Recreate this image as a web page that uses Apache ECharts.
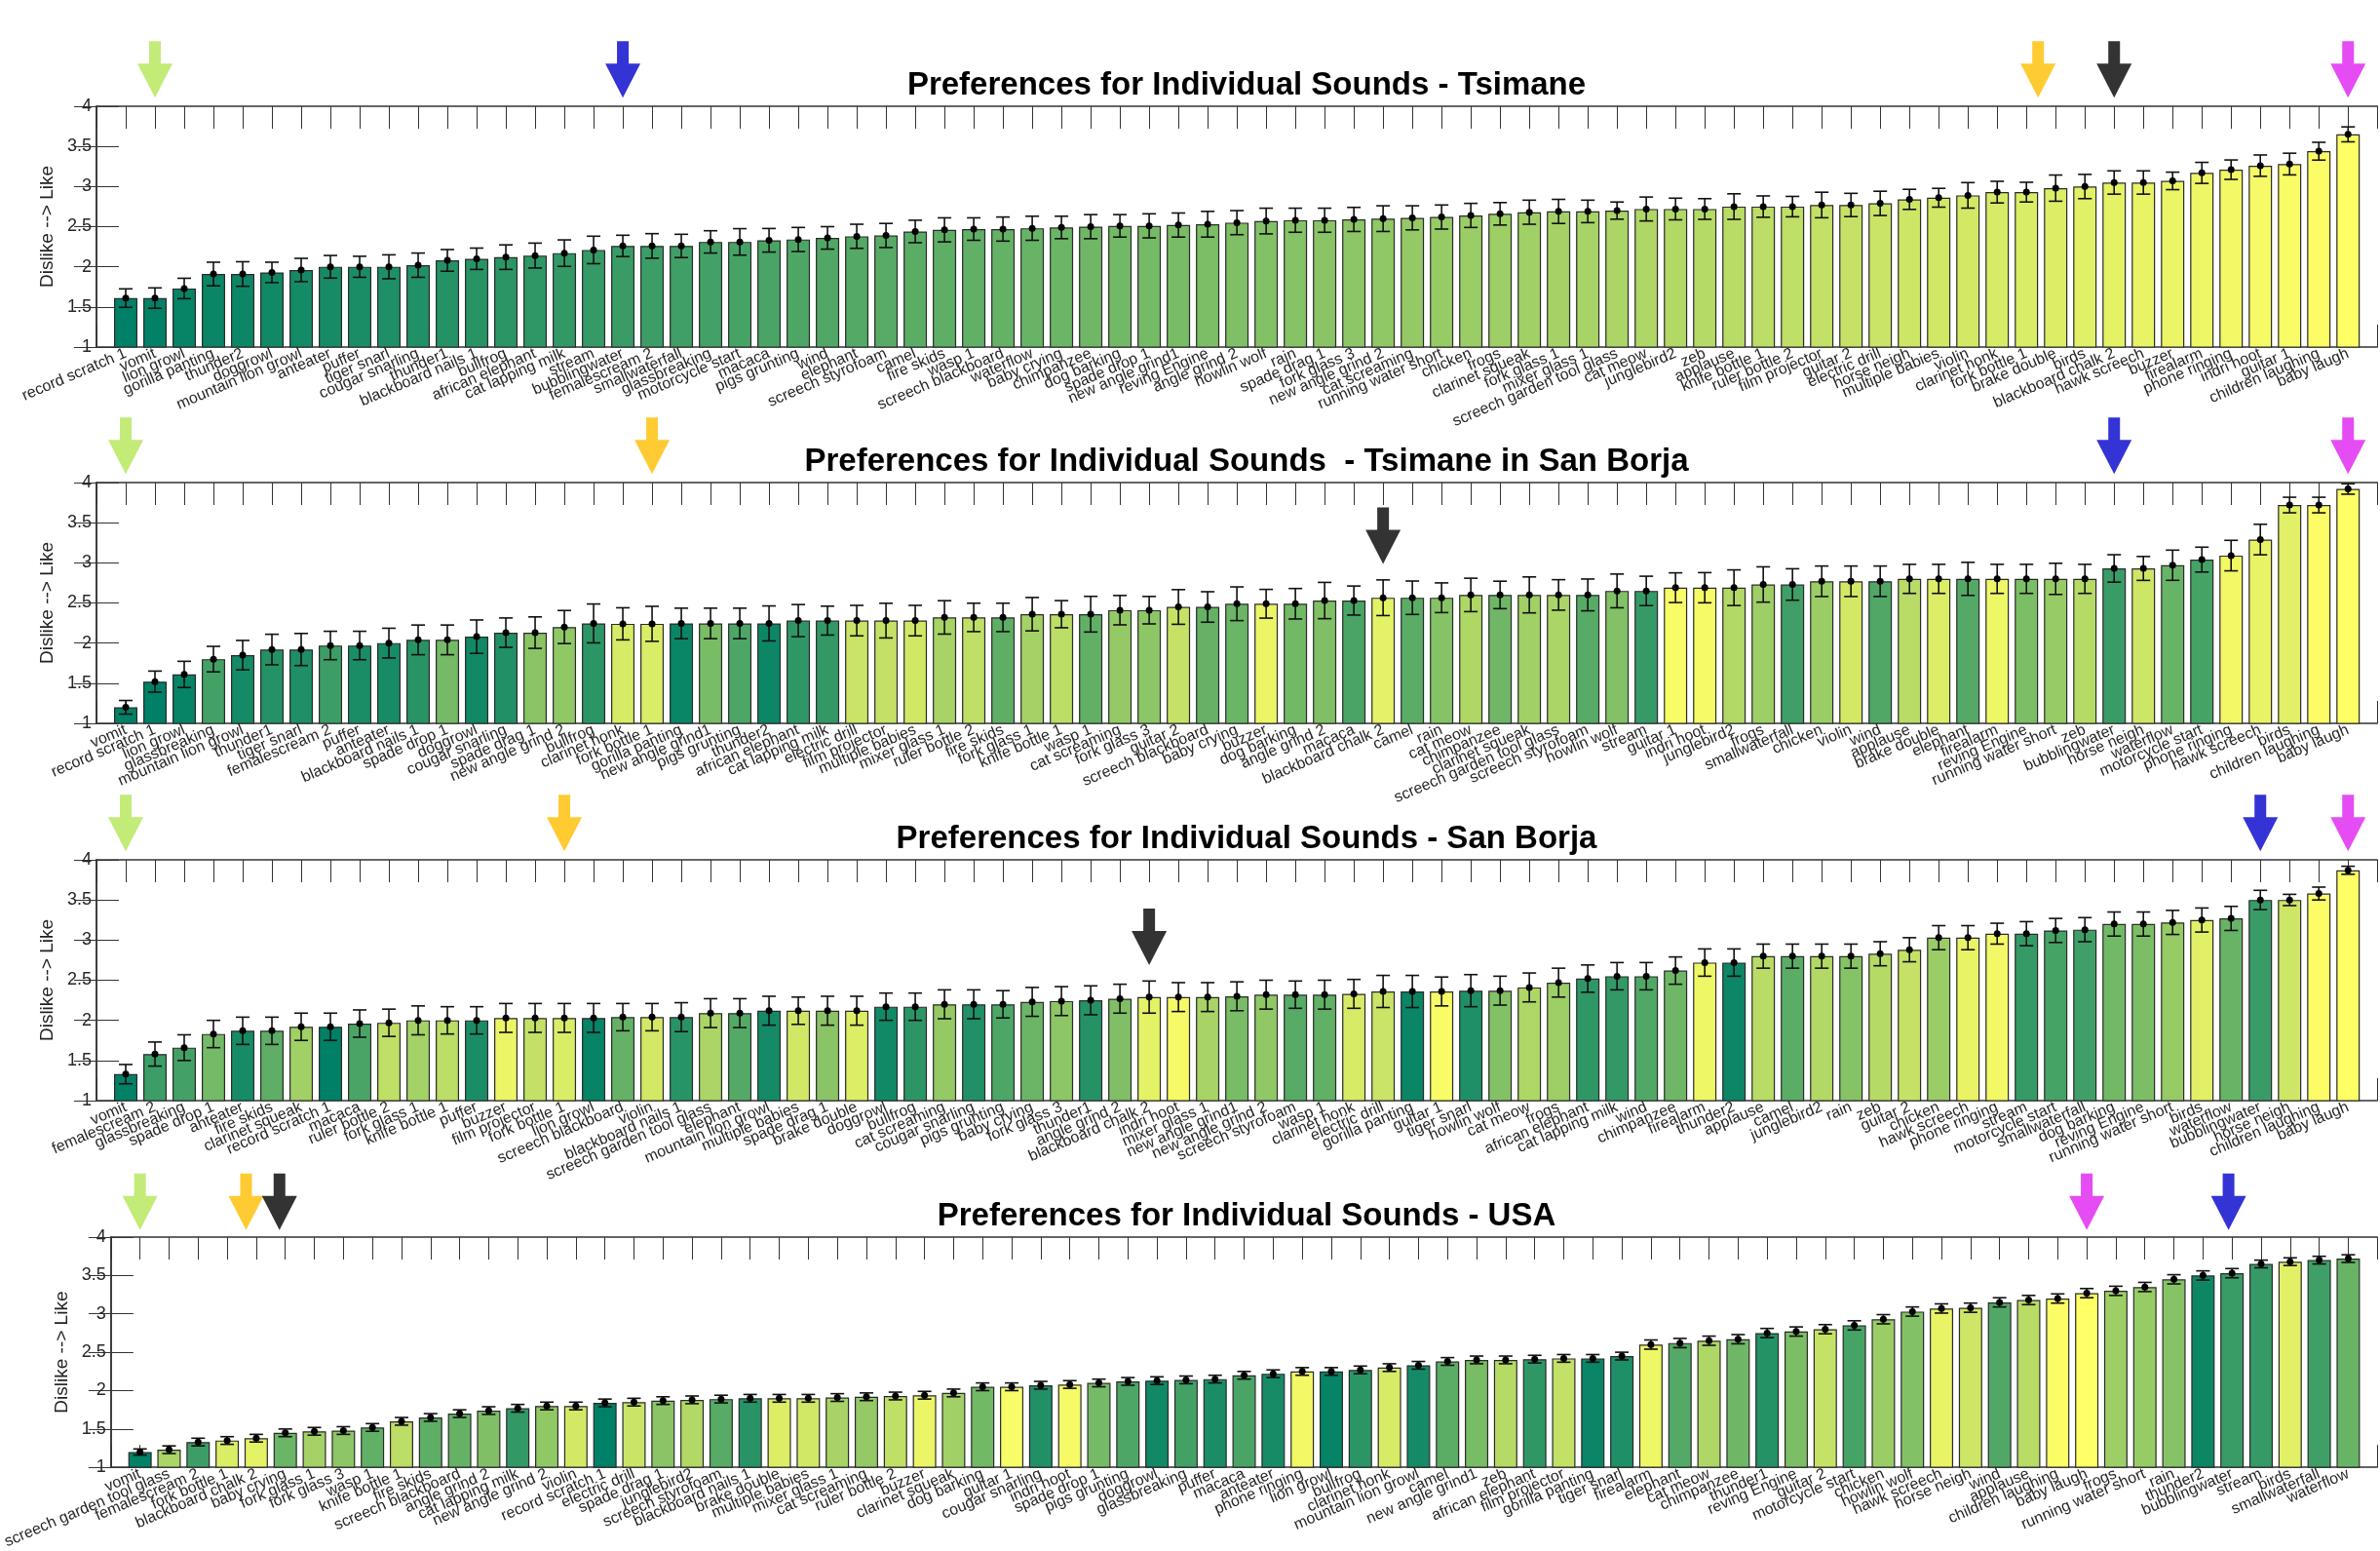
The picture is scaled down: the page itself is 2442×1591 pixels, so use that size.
<!DOCTYPE html>
<html><head><meta charset="utf-8">
<script src="https://cdn.jsdelivr.net/npm/echarts@6/dist/echarts.min.js"></script>
<style>html,body{margin:0;padding:0;background:#fff}#c{width:2442px;height:1591px}</style>
</head><body><div id="c"></div>
<script>
// ---------------- DATA ----------------
const titleTsimane = 'Preferences for Individual Sounds - Tsimane';
const titleSanBorjaTsimane = 'Preferences for Individual Sounds  - Tsimane in San Borja';
const titleSanBorja = 'Preferences for Individual Sounds - San Borja';
const titleUSA = 'Preferences for Individual Sounds - USA';

const yTicks = [1, 1.5, 2, 2.5, 3, 3.5, 4];

const namesTsimane = ['record scratch 1','vomit','lion growl','gorilla panting','thunder2','doggrowl','mountain lion growl','anteater','puffer','tiger snarl','cougar snarling','thunder1','blackboard nails 1','bullfrog','african elephant','cat lapping milk','stream','bubblingwater','femalescream 2','smallwaterfall','glassbreaking','motorcycle start','macaca','pigs grunting','wind','elephant','screech styrofoam','camel','fire skids','wasp 1','screech blackboard','waterflow','baby crying','chimpanzee','dog barking','spade drop 1','new angle grind1','reving Engine','angle grind 2','howlin wolf','rain','spade drag 1','fork glass 3','new angle grind 2','cat screaming','running water short','chicken','frogs','clarinet squeak','fork glass 1','mixer glass 1','screech garden tool glass','cat meow','junglebird2','zeb','applause','knife bottle 1','ruler bottle 2','film projector','guitar 2','electric drill','horse neigh','multiple babies','violin','clarinet honk','fork bottle 1','brake double','birds','blackboard chalk 2','hawk screech','buzzer','firealarm','phone ringing','indri hoot','guitar 1','children laughing','baby laugh'];
const meanTsimane = [1.61,1.61,1.73,1.91,1.91,1.93,1.96,2.00,2.00,2.00,2.02,2.08,2.10,2.12,2.14,2.17,2.21,2.26,2.26,2.26,2.31,2.31,2.33,2.34,2.36,2.38,2.39,2.44,2.46,2.47,2.47,2.48,2.49,2.50,2.51,2.51,2.52,2.53,2.55,2.57,2.58,2.58,2.59,2.60,2.61,2.62,2.64,2.66,2.68,2.69,2.69,2.70,2.72,2.72,2.72,2.75,2.75,2.75,2.77,2.77,2.79,2.84,2.86,2.89,2.93,2.93,2.98,3.00,3.05,3.05,3.07,3.17,3.21,3.26,3.28,3.44,3.65];
const errTsimane = [0.115,0.127,0.127,0.147,0.153,0.127,0.145,0.141,0.131,0.149,0.151,0.135,0.133,0.153,0.155,0.165,0.171,0.133,0.153,0.145,0.139,0.165,0.147,0.15,0.14,0.15,0.15,0.14,0.15,0.14,0.15,0.15,0.14,0.15,0.14,0.15,0.15,0.16,0.15,0.16,0.15,0.15,0.15,0.16,0.15,0.15,0.15,0.14,0.15,0.15,0.14,0.107,0.149,0.135,0.129,0.159,0.133,0.127,0.159,0.145,0.151,0.125,0.117,0.159,0.135,0.123,0.163,0.151,0.145,0.145,0.109,0.131,0.121,0.133,0.135,0.111,0.093];

const namesSanBorjaTsimane = ['vomit','record scratch 1','lion growl','glassbreaking','mountain lion growl','thunder1','tiger snarl','femalescream 2','puffer','anteater','blackboard nails 1','spade drop 1','doggrowl','cougar snarling','spade drag 1','new angle grind 2','bullfrog','clarinet honk','fork bottle 1','gorilla panting','new angle grind1','pigs grunting','thunder2','african elephant','cat lapping milk','electric drill','film projector','multiple babies','mixer glass 1','ruler bottle 2','fire skids','fork glass 1','knife bottle 1','wasp 1','cat screaming','fork glass 3','guitar 2','screech blackboard','baby crying','buzzer','dog barking','angle grind 2','macaca','blackboard chalk 2','camel','rain','cat meow','chimpanzee','clarinet squeak','screech garden tool glass','screech styrofoam','howlin wolf','stream','guitar 1','indri hoot','junglebird2','frogs','smallwaterfall','chicken','violin','wind','applause','brake double','elephant','firealarm','reving Engine','running water short','zeb','bubblingwater','horse neigh','waterflow','motorcycle start','phone ringing','hawk screech','birds','children laughing','baby laugh'];
const meanSanBorjaTsimane = [1.20,1.52,1.61,1.80,1.85,1.92,1.92,1.97,1.97,2.00,2.04,2.04,2.08,2.13,2.13,2.20,2.245,2.24,2.24,2.245,2.245,2.245,2.245,2.28,2.28,2.28,2.28,2.28,2.32,2.32,2.32,2.36,2.36,2.36,2.41,2.41,2.45,2.45,2.49,2.49,2.49,2.53,2.53,2.565,2.565,2.565,2.60,2.60,2.60,2.60,2.60,2.65,2.65,2.69,2.69,2.69,2.73,2.73,2.77,2.77,2.77,2.80,2.80,2.80,2.80,2.80,2.80,2.80,2.93,2.93,2.97,3.04,3.09,3.29,3.72,3.72,3.92];
const errSanBorjaTsimane = [0.085,0.131,0.163,0.159,0.183,0.19,0.2,0.177,0.177,0.185,0.185,0.185,0.208,0.183,0.196,0.206,0.242,0.2,0.218,0.19,0.19,0.19,0.218,0.2,0.18,0.19,0.216,0.19,0.208,0.177,0.177,0.208,0.169,0.222,0.183,0.171,0.216,0.19,0.21,0.179,0.19,0.226,0.181,0.222,0.208,0.185,0.208,0.171,0.224,0.19,0.198,0.21,0.183,0.185,0.188,0.222,0.22,0.196,0.19,0.19,0.19,0.181,0.181,0.206,0.181,0.181,0.194,0.181,0.171,0.149,0.188,0.155,0.19,0.19,0.097,0.097,0.065];

const namesSanBorja = ['vomit','femalescream 2','glassbreaking','spade drop 1','anteater','fire skids','clarinet squeak','record scratch 1','macaca','ruler bottle 2','fork glass 1','knife bottle 1','puffer','buzzer','film projector','fork bottle 1','lion growl','screech blackboard','violin','blackboard nails 1','screech garden tool glass','elephant','mountain lion growl','multiple babies','spade drag 1','brake double','doggrowl','bullfrog','cat screaming','cougar snarling','pigs grunting','baby crying','fork glass 3','thunder1','angle grind 2','blackboard chalk 2','indri hoot','mixer glass 1','new angle grind1','new angle grind 2','screech styrofoam','wasp 1','clarinet honk','electric drill','gorilla panting','guitar 1','tiger snarl','howlin wolf','cat meow','frogs','african elephant','cat lapping milk','wind','chimpanzee','firealarm','thunder2','applause','camel','junglebird2','rain','zeb','guitar 2','chicken','hawk screech','phone ringing','stream','motorcycle start','smallwaterfall','dog barking','reving Engine','running water short','birds','waterflow','bubblingwater','horse neigh','children laughing','baby laugh'];
const meanSanBorja = [1.33,1.58,1.66,1.83,1.87,1.87,1.92,1.92,1.96,1.97,2.00,2.00,2.00,2.03,2.03,2.03,2.03,2.04,2.04,2.04,2.09,2.09,2.12,2.12,2.12,2.12,2.17,2.17,2.20,2.20,2.20,2.23,2.24,2.25,2.27,2.29,2.29,2.29,2.30,2.32,2.32,2.32,2.33,2.36,2.36,2.36,2.37,2.37,2.41,2.47,2.52,2.55,2.55,2.62,2.72,2.72,2.80,2.80,2.80,2.80,2.83,2.88,3.03,3.03,3.08,3.08,3.12,3.13,3.20,3.20,3.22,3.25,3.27,3.50,3.50,3.58,3.87];
const errSanBorja = [0.12,0.15,0.16,0.17,0.17,0.17,0.17,0.17,0.17,0.17,0.18,0.17,0.17,0.18,0.18,0.18,0.18,0.17,0.17,0.18,0.18,0.18,0.18,0.17,0.18,0.18,0.17,0.17,0.18,0.18,0.17,0.18,0.18,0.18,0.18,0.2,0.18,0.18,0.18,0.18,0.17,0.18,0.18,0.2,0.2,0.18,0.2,0.18,0.18,0.18,0.17,0.17,0.17,0.17,0.17,0.17,0.15,0.15,0.15,0.15,0.15,0.15,0.15,0.15,0.13,0.15,0.15,0.15,0.15,0.15,0.15,0.15,0.15,0.12,0.07,0.08,0.05];

const namesUSA = ['vomit','screech garden tool glass','femalescream 2','fork bottle 1','blackboard chalk 2','baby crying','fork glass 1','fork glass 3','wasp 1','knife bottle 1','fire skids','screech blackboard','angle grind 2','cat lapping milk','new angle grind 2','violin','record scratch 1','electric drill','spade drag 1','junglebird2','screech styrofoam','blackboard nails 1','brake double','multiple babies','mixer glass 1','cat screaming','ruler bottle 2','buzzer','clarinet squeak','dog barking','guitar 1','cougar snarling','indri hoot','spade drop 1','pigs grunting','doggrowl','glassbreaking','puffer','macaca','anteater','phone ringing','lion growl','bullfrog','clarinet honk','mountain lion growl','camel','new angle grind1','zeb','african elephant','film projector','gorilla panting','tiger snarl','firealarm','elephant','cat meow','chimpanzee','thunder1','reving Engine','guitar 2','motorcycle start','chicken','howlin wolf','hawk screech','horse neigh','wind','applause','children laughing','baby laugh','frogs','running water short','rain','thunder2','bubblingwater','stream','birds','smallwaterfall','waterflow'];
const meanUSA = [1.20,1.23,1.33,1.35,1.38,1.45,1.47,1.48,1.52,1.60,1.65,1.70,1.74,1.77,1.80,1.80,1.84,1.85,1.87,1.88,1.89,1.90,1.90,1.90,1.91,1.92,1.93,1.94,1.97,2.05,2.05,2.07,2.08,2.10,2.12,2.13,2.14,2.15,2.20,2.22,2.25,2.25,2.27,2.30,2.33,2.38,2.40,2.40,2.41,2.42,2.42,2.45,2.60,2.62,2.65,2.67,2.75,2.77,2.80,2.85,2.93,3.03,3.07,3.08,3.15,3.18,3.20,3.27,3.30,3.35,3.45,3.50,3.53,3.65,3.68,3.70,3.72];
const errUSA = [0.04,0.05,0.05,0.05,0.05,0.05,0.05,0.05,0.05,0.05,0.05,0.05,0.05,0.05,0.05,0.05,0.05,0.05,0.05,0.05,0.05,0.05,0.05,0.05,0.05,0.05,0.05,0.05,0.05,0.05,0.05,0.05,0.05,0.05,0.05,0.05,0.05,0.05,0.05,0.05,0.05,0.05,0.05,0.05,0.05,0.05,0.05,0.05,0.05,0.05,0.05,0.05,0.06,0.06,0.06,0.06,0.06,0.06,0.06,0.06,0.06,0.06,0.06,0.06,0.06,0.06,0.06,0.06,0.06,0.06,0.06,0.06,0.06,0.05,0.05,0.05,0.05];

// arrows: [sound, colour key]
const arrowsTsimane = [['vomit','green'],['bubblingwater','blue'],['fork bottle 1','orange'],['blackboard chalk 2','black'],['baby laugh','magenta']];
const arrowsSanBorjaTsimane = [['vomit','green'],['fork bottle 1','orange'],['blackboard chalk 2','black'],['bubblingwater','blue'],['baby laugh','magenta']];
const arrowsSanBorja = [['vomit','green'],['fork bottle 1','orange'],['blackboard chalk 2','black'],['bubblingwater','blue'],['baby laugh','magenta']];
const arrowsUSA = [['vomit','green'],['fork bottle 1','orange'],['blackboard chalk 2','black'],['baby laugh','magenta'],['bubblingwater','blue']];

// ---------------- CHART ----------------
const FONT = 'Liberation Sans, Arial, Helvetica, sans-serif';
const arrowColors = {green:'#b4e656', blue:'#0000cc', orange:'#ffbe00', black:'#000000', magenta:'#df1ff0'};
// placement of annotation arrows (inside = drawn just above the error bar; shift = x offset in bar units)
const panels = [
  {title:titleTsimane, names:namesTsimane, mean:meanTsimane, err:errTsimane, arrows:arrowsTsimane, inside:[], shift:{'fork bottle 1':0.4}},
  {title:titleSanBorjaTsimane, names:namesSanBorjaTsimane, mean:meanSanBorjaTsimane, err:errSanBorjaTsimane, arrows:arrowsSanBorjaTsimane, inside:['blackboard chalk 2'], shift:{}},
  {title:titleSanBorja, names:namesSanBorja, mean:meanSanBorja, err:errSanBorja, arrows:arrowsSanBorja, inside:['blackboard chalk 2'], shift:{}},
  {title:titleUSA, names:namesUSA, mean:meanUSA, err:errUSA, arrows:arrowsUSA, inside:[], shift:{'fork bottle 1':0.65,'blackboard chalk 2':0.8,'bubblingwater':-0.12}}
];
const N = namesTsimane.length;
function summer(name){
  const t = namesTsimane.indexOf(name) / (N - 1);
  const r = Math.round(255 * t), g = Math.round(255 * (0.5 + 0.5 * t)), b = 102;
  return 'rgb(' + r + ',' + g + ',' + b + ')';
}
const gridTops = [109, 495, 882, 1269];
const gridH = 247, gridLeft = 99, gridW = 2350;
const arrowPath = 'path://M12,0 L24,0 L24,23 L36,23 L18,58 L0,23 L12,23 Z';

const option = {animation:false, backgroundColor:'#fff', title:[], grid:[], xAxis:[], yAxis:[], series:[]};
const axisColor = '#333';
panels.forEach((p, k) => {
  option.title.push({text:p.title, left:gridLeft + gridW/2, top:gridTops[k] - 43, textAlign:'center',
    textStyle:{fontFamily:FONT, fontWeight:'bold', fontSize:33, color:'#000'}});
  option.grid.push({left:gridLeft, top:gridTops[k], width:gridW, height:gridH});
  option.xAxis.push({type:'value', gridIndex:k, min:0, max:N+1, interval:1,
    axisLine:{show:true, onZero:false, lineStyle:{color:axisColor, width:1.5}},
    axisTick:{show:true, inside:true, length:23, lineStyle:{color:axisColor, width:1}},
    splitLine:{show:false},
    axisLabel:{show:true, rotate:23, margin:6, fontSize:16, color:'#262626', fontFamily:FONT,
      showMinLabel:true, showMaxLabel:true,
      formatter:(v) => { const i = Math.round(v) - 1; return (i >= 0 && i < p.names.length) ? p.names[i] : ''; }}
  });
  option.xAxis.push({type:'value', gridIndex:k, position:'top', min:0, max:N+1, interval:1,
    axisLine:{show:true, onZero:false, lineStyle:{color:axisColor, width:1.5}},
    axisTick:{show:true, inside:true, length:23, lineStyle:{color:axisColor, width:1}},
    splitLine:{show:false}, axisLabel:{show:false}});
  option.yAxis.push({type:'value', gridIndex:k, min:yTicks[0], max:yTicks[yTicks.length-1], interval:0.5,
    name:'Dislike --> Like', nameLocation:'middle', nameGap:31,
    nameTextStyle:{fontSize:19, color:'#222', fontFamily:FONT},
    axisLine:{show:true, lineStyle:{color:axisColor, width:1.5}},
    axisTick:{show:true, inside:true, length:23, lineStyle:{color:axisColor, width:1}},
    splitLine:{show:false},
    axisLabel:{fontSize:18, color:'#262626', margin:5, fontFamily:FONT, formatter:(v) => String(v)}
  });
  option.yAxis.push({type:'value', gridIndex:k, position:'right', min:yTicks[0], max:yTicks[yTicks.length-1], interval:0.5,
    axisLine:{show:true, lineStyle:{color:axisColor, width:1.5}},
    axisTick:{show:true, inside:true, length:23, lineStyle:{color:axisColor, width:1}},
    splitLine:{show:false}, axisLabel:{show:false}});
  const xi = 2*k, yi = 2*k;
  option.series.push({type:'bar', xAxisIndex:xi, yAxisIndex:yi, barWidth:24, z:2,
    data:p.names.map((n, i) => ({value:[i+1, p.mean[i]], itemStyle:{color:summer(n), borderColor:'#2a2a2a', borderWidth:1.2}}))
  });
  option.series.push({type:'custom', xAxisIndex:xi, yAxisIndex:yi, z:5,
    data:p.names.map((n, i) => [i+1, p.mean[i], p.err[i]]),
    renderItem:(params, api) => {
      const x = api.value(0), m = api.value(1), e = api.value(2);
      const t = api.coord([x, m+e]), b = api.coord([x, m-e]), c = api.coord([x, m]);
      const hw = 7, st = {stroke:'#111', lineWidth:1.6};
      return {type:'group', children:[
        {type:'line', shape:{x1:t[0], y1:t[1], x2:b[0], y2:b[1]}, style:st},
        {type:'line', shape:{x1:t[0]-hw, y1:t[1], x2:t[0]+hw, y2:t[1]}, style:st},
        {type:'line', shape:{x1:b[0]-hw, y1:b[1], x2:b[0]+hw, y2:b[1]}, style:st},
        {type:'circle', shape:{cx:c[0], cy:c[1], r:3.5}, style:{fill:'#000'}}
      ]};
    }
  });
  option.series.push({type:'scatter', xAxisIndex:xi, yAxisIndex:yi, z:6, clip:false, silent:true,
    symbol:arrowPath, symbolSize:[36,58], symbolKeepAspect:false,
    data:p.arrows.map(a => {
      const i = p.names.indexOf(a[0]);
      const yv = p.inside.includes(a[0]) ? p.mean[i] + p.err[i] + 0.55 : 4.46;
      const dx = p.shift[a[0]] || 0;
      return {value:[i + 1 + dx, yv], itemStyle:{color:arrowColors[a[1]]}};
    })
  });
});
const chart = echarts.init(document.getElementById('c'), null, {renderer:'canvas', width:2442, height:1591});
chart.setOption(option);
</script>
</body></html>
